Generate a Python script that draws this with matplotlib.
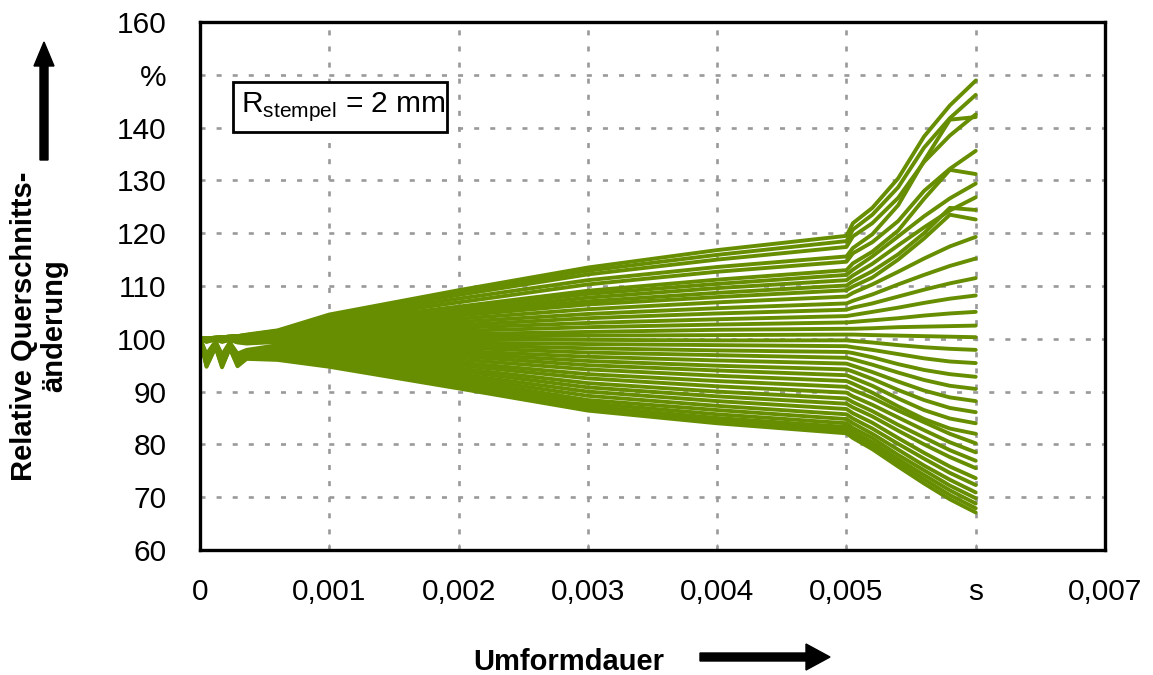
import numpy as np
import matplotlib as mpl
mpl.use("Agg")
import matplotlib.pyplot as plt
from matplotlib.patches import FancyArrow, Rectangle
from matplotlib.transforms import IdentityTransform

plt.rcParams['font.family'] = ['Liberation Sans', 'DejaVu Sans']
plt.rcParams['mathtext.fontset'] = 'custom'
plt.rcParams['mathtext.rm'] = 'Liberation Sans'

# output times of the simulation (s)
times = [0, 0.00005, 0.00012, 0.00017, 0.00023, 0.00029, 0.00036, 0.0006,
         0.001, 0.002, 0.003, 0.004, 0.005, 0.00505, 0.0052, 0.0054, 0.0056, 0.0058, 0.006]

# relative cross-section change (%) of the 36 nodes at each output time
y_t00000 = [100.0]*36
y_t00005 = [100.1, 100.1, 100.1, 100.1, 100.1, 100.1, 100.0, 100.0, 100.0, 100.0, 100.0, 100.0,
            100.0, 100.0, 100.0, 100.0, 100.0, 100.0, 99.9, 99.8, 99.7, 99.6, 99.5, 99.4,
            97.1, 96.8, 96.5, 96.3, 96.1, 95.9, 95.7, 95.5, 95.3, 95.1, 94.9, 94.7]
y_t00012 = [100.2, 100.2, 100.2, 100.2, 100.2, 100.2, 100.1, 100.1, 100.1, 100.1, 100.1, 100.1,
            100.1, 100.0, 100.0, 100.0, 100.0, 100.0, 100.0, 100.0, 100.0, 100.0, 99.9, 99.9,
            99.5, 99.4, 99.3, 99.2, 99.1, 99.0, 98.9, 98.8, 98.7, 98.6, 98.5, 98.4]
y_t00017 = [100.3, 100.3, 100.3, 100.3, 100.3, 100.3, 100.1, 100.1, 100.1, 100.1, 100.1, 100.1,
            100.1, 100.0, 100.0, 100.0, 100.0, 100.0, 100.0, 99.9, 99.7, 99.6, 99.5, 99.4,
            97.0, 96.7, 96.4, 96.2, 96.0, 95.8, 95.6, 95.4, 95.2, 95.0, 94.8, 94.6]
y_t00023 = [100.4, 100.4, 100.4, 100.4, 100.4, 100.4, 100.2, 100.2, 100.2, 100.2, 100.2, 100.2,
            100.2, 100.1, 100.1, 100.1, 100.1, 100.0, 99.9, 99.9, 99.9, 99.9, 99.8, 99.8,
            99.3, 99.2, 99.1, 99.0, 98.9, 98.8, 98.7, 98.6, 98.5, 98.4, 98.3, 98.2]
y_t00029 = [100.5, 100.5, 100.5, 100.5, 100.5, 100.5, 100.3, 100.3, 100.3, 100.3, 100.3, 100.3,
            100.3, 100.1, 100.1, 100.1, 100.1, 100.0, 99.8, 99.7, 99.6, 99.5, 99.4, 99.3,
            97.2, 96.9, 96.6, 96.4, 96.2, 96.0, 95.8, 95.6, 95.4, 95.2, 95.0, 94.8]
y_t00036 = [100.8, 100.7, 100.7, 100.6, 100.6, 100.5, 100.4, 100.4, 100.3, 100.3, 100.3, 100.2,
            100.2, 100.1, 100.1, 100.1, 100.1, 100.0, 99.8, 99.7, 99.6, 99.5, 99.3, 99.1,
            97.9, 97.6, 97.4, 97.2, 97.0, 96.8, 96.7, 96.6, 96.5, 96.4, 96.3, 96.2]
y_t00060 = [101.6, 101.5, 101.4, 101.3, 101.1, 101.0, 101.0, 100.9, 100.8, 100.7, 100.6, 100.5,
            100.4, 100.3, 100.2, 100.2, 100.1, 100.0, 99.9, 99.8, 99.7, 99.6, 99.5, 99.4,
            98.8, 98.5, 98.2, 97.9, 97.6, 97.3, 97.0, 96.8, 96.6, 96.4, 96.2, 96.0]
y_t00100 = [104.6, 104.3, 104.1, 103.8, 103.5, 103.2, 102.9, 102.7, 102.4, 102.2, 101.9, 101.6,
            101.4, 101.1, 100.8, 100.5, 100.2, 99.9, 99.7, 99.4, 99.1, 98.8, 98.6, 98.3,
            98.0, 97.7, 97.4, 97.1, 96.8, 96.5, 96.2, 95.9, 95.6, 95.3, 95.0, 94.7]
y_t00200 = [109.2, 108.7, 108.3, 107.6, 106.9, 106.1, 105.7, 105.2, 104.8, 104.4, 103.8, 103.2,
            102.6, 102.1, 101.5, 100.9, 100.4, 99.9, 99.3, 98.8, 98.3, 97.7, 97.2, 96.7,
            96.1, 95.5, 95.0, 94.4, 93.9, 93.3, 92.8, 92.3, 91.8, 91.4, 91.0, 90.6]
y_t00300 = [113.5, 112.9, 112.2, 111.1, 110.3, 109.1, 108.5, 107.8, 107.1, 106.5, 105.6, 104.7,
            103.9, 103.0, 102.2, 101.3, 100.6, 99.8, 99.0, 98.2, 97.4, 96.6, 95.8, 95.0,
            94.2, 93.3, 92.5, 91.6, 90.8, 90.0, 89.2, 88.4, 87.8, 87.2, 86.8, 86.4]
y_t00400 = [116.8, 115.9, 115.0, 113.6, 112.7, 111.2, 110.4, 109.6, 108.7, 107.9, 106.9, 105.8,
            104.8, 103.7, 102.7, 101.7, 100.7, 99.7, 98.8, 97.8, 96.9, 95.9, 94.9, 94.0,
            93.0, 92.0, 91.0, 90.0, 89.1, 88.2, 87.3, 86.5, 85.7, 85.0, 84.5, 84.0]
y_t00500 = [119.5, 118.5, 117.4, 115.6, 114.6, 113.0, 112.1, 111.1, 110.1, 109.2, 108.0, 106.7,
            105.5, 104.3, 103.1, 101.9, 100.8, 99.7, 98.6, 97.5, 96.4, 95.3, 94.2, 93.1,
            92.0, 90.9, 89.8, 88.7, 87.7, 86.7, 85.7, 84.8, 84.0, 83.3, 82.7, 82.1]
y_t00505 = [121.9, 120.7, 119.4, 117.2, 116.2, 114.3, 113.1, 112.0, 110.9, 109.9, 108.7, 107.2,
            105.9, 104.5, 103.2, 101.9, 100.8, 99.6, 98.4, 97.3, 96.1, 94.9, 93.8, 92.6,
            91.5, 90.3, 89.1, 88.0, 87.0, 85.9, 84.9, 84.0, 83.1, 82.4, 81.8, 81.2]
y_t00520 = [124.8, 123.5, 121.9, 119.8, 118.3, 116.5, 115.6, 114.2, 112.8, 111.6, 110.3, 108.4,
            106.7, 105.1, 103.5, 102.0, 100.7, 99.3, 97.9, 96.5, 95.1, 93.7, 92.4, 91.1,
            89.8, 88.8, 87.5, 86.3, 85.3, 84.1, 83.0, 82.0, 81.2, 80.4, 79.7, 79.1]
y_t00540 = [130.4, 128.7, 126.7, 125.3, 122.3, 120.5, 119.4, 117.7, 116.0, 115.0, 112.7, 110.3,
            108.0, 105.9, 103.9, 102.2, 100.6, 98.8, 97.1, 95.2, 93.6, 91.9, 90.3, 88.7,
            87.2, 86.4, 85.1, 83.7, 82.6, 81.2, 80.1, 79.0, 78.0, 77.2, 76.5, 75.8]
y_t00560 = [138.3, 136.2, 133.5, 133.7, 128.0, 126.5, 123.2, 121.1, 120.0, 119.0, 115.2, 112.1,
            109.3, 106.8, 104.4, 102.3, 100.5, 98.4, 96.3, 94.1, 92.2, 90.2, 88.4, 86.5,
            84.8, 84.2, 82.7, 81.3, 80.0, 78.4, 77.3, 76.0, 75.1, 74.2, 73.4, 72.6]
y_t00580 = [144.2, 141.8, 138.5, 141.5, 132.2, 132.0, 126.6, 124.3, 124.8, 123.5, 117.5, 113.8,
            110.5, 107.6, 104.8, 102.4, 100.4, 98.1, 95.7, 93.3, 91.1, 88.9, 86.9, 84.9,
            83.0, 82.0, 80.4, 78.9, 77.6, 75.8, 74.6, 73.3, 72.2, 71.3, 70.4, 69.6]
y_t00600 = [148.9, 146.2, 142.5, 142.0, 135.6, 131.2, 129.4, 126.8, 124.4, 122.6, 119.3, 115.2,
            111.5, 108.2, 105.1, 102.5, 100.3, 97.9, 95.4, 92.8, 90.5, 88.2, 86.1, 84.0,
            82.0, 80.2, 78.5, 76.9, 75.5, 73.6, 72.3, 70.9, 69.8, 68.8, 67.9, 67.1]

xtick_vals = [0, 0.001, 0.002, 0.003, 0.004, 0.005, 0.006, 0.007]
xtick_labels = ['0', '0,001', '0,002', '0,003', '0,004', '0,005', 's', '0,007']
ytick_vals = [60, 70, 80, 90, 100, 110, 120, 130, 140, 150, 160]
ytick_labels = ['60', '70', '80', '90', '100', '110', '120', '130', '140', '%', '160']

curves = np.array([y_t00000, y_t00005, y_t00012, y_t00017, y_t00023, y_t00029, y_t00036, y_t00060,
                   y_t00100, y_t00200, y_t00300, y_t00400, y_t00500, y_t00505, y_t00520, y_t00540,
                   y_t00560, y_t00580, y_t00600])

fig = plt.figure(figsize=(11.53, 6.75), dpi=100)
ax = fig.add_axes([0.1735, 0.1852, 0.7849, 0.7822])
ax.plot(times, curves, color='#668E00', lw=2.8, solid_joinstyle='round', solid_capstyle='round', zorder=3)

ax.set_xlim(0, 0.007)
ax.set_ylim(60, 160)
ax.set_xticks(xtick_vals)
ax.set_xticklabels(xtick_labels)
ax.set_yticks(ytick_vals)
ax.set_yticklabels(ytick_labels)
ax.tick_params(axis='x', direction='in', length=4, width=1, color='#999999', labelsize=21.5, pad=20)
ax.tick_params(axis='y', direction='in', length=0, labelsize=21.5, pad=24)
ax.set_axisbelow(True)
ax.grid(True, color='#999999', lw=1.9, linestyle=(0, (1.9, 4.2)))
for s in ax.spines.values():
  s.set_linewidth(2.4)
  s.set_color('black')
  s.set_zorder(5)

# parameter box
ax.add_patch(Rectangle((0.0365, 0.792), 0.2365, 0.0947, transform=ax.transAxes,
                       facecolor='white', edgecolor='black', lw=2, zorder=6))
ax.text(0.045, 0.839, r'R$_{\mathregular{stempel}}$ = 2 mm', transform=ax.transAxes,
        fontsize=21.5, va='center', ha='left', zorder=7)

# axis titles with arrows
fig.text(0.034, 0.517, 'Relative Querschnitts-\nänderung', rotation=90, ha='center', va='center',
         multialignment='center', fontweight='bold', fontsize=21, linespacing=1.1)
fig.text(569/1153, 5/675, 'Umformdauer', ha='center', va='baseline', fontweight='bold', fontsize=21)
fig.add_artist(FancyArrow(44, 515, 0, 118, width=8, head_width=20, head_length=24,
                          length_includes_head=True, color='black', transform=IdentityTransform()))
fig.add_artist(FancyArrow(700, 18, 130, 0, width=8, head_width=26, head_length=24,
                          length_includes_head=True, color='black', transform=IdentityTransform()))

plt.savefig('out.png', dpi=100)
